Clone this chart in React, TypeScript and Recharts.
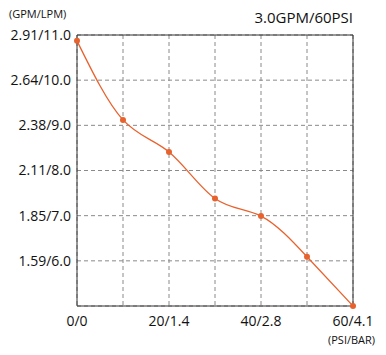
import { LineChart, Line, XAxis, YAxis, CartesianGrid, ReferenceLine } from 'recharts';

// pressure in PSI, flow in LPM
const psi = [0, 10, 20, 30, 40, 50, 60];
const lpm = [10.87, 9.12, 8.41, 7.38, 6.99, 6.09, 5.0];

const xTicks = [0, 10, 20, 30, 40, 50, 60];
const xLabels: Record<number, string> = { 0: '0/0', 20: '20/1.4', 40: '40/2.8', 60: '60/4.1' };
const yTicks = [5, 6, 7, 8, 9, 10, 11];
const yLabels: Record<number, string> = {
  6: '1.59/6.0',
  7: '1.85/7.0',
  8: '2.11/8.0',
  9: '2.38/9.0',
  10: '2.64/10.0',
  11: '2.91/11.0',
};

const data = psi.map((p, i) => ({ psi: p, lpm: lpm[i] }));

const font = '"Open Sans", "Noto Sans", sans-serif';
const orange = '#e8622e';

export default function App() {
  return (
    <div style={{ position: 'absolute', left: 0, top: 0, width: 386, height: 355, background: '#fff', fontFamily: font }}>
      <div style={{ position: 'absolute', left: 9, top: 6, fontSize: 11, color: '#111' }}>(GPM/LPM)</div>
      <div style={{ position: 'absolute', right: 33, top: 7, fontSize: 15, color: '#111' }}>3.0GPM/60PSI</div>
      <div style={{ position: 'absolute', left: 328, top: 332, fontSize: 11, color: '#111' }}>(PSI/BAR)</div>
      <LineChart width={386} height={355} data={data} margin={{ top: 35, right: 33, bottom: 0, left: 0 }}>
        <CartesianGrid stroke="#8a8a8a" strokeDasharray="4 3" vertical horizontal />
        <XAxis
          dataKey="psi"
          type="number"
          domain={[0, 60]}
          ticks={xTicks}
          interval={0}
          tickFormatter={(v) => xLabels[v] ?? ''}
          tickSize={0}
          tickMargin={10}
          height={49}
          stroke="#333"
          tick={{ fill: '#111', fontSize: 14, fontFamily: font }}
        />
        <YAxis
          type="number"
          domain={[5, 11]}
          ticks={yTicks}
          interval={0}
          tickFormatter={(v) => yLabels[v] ?? ''}
          tickSize={0}
          tickMargin={6}
          width={77}
          stroke="#333"
          tick={{ fill: '#111', fontSize: 14, fontFamily: font }}
        />
        <ReferenceLine y={11} stroke="#333" />
        <ReferenceLine x={60} stroke="#333" />
        <Line
          type="natural"
          dataKey="lpm"
          stroke={orange}
          strokeWidth={1.3}
          dot={{ r: 3, fill: orange, stroke: orange, strokeWidth: 0 }}
          isAnimationActive={false}
        />
      </LineChart>
    </div>
  );
}
